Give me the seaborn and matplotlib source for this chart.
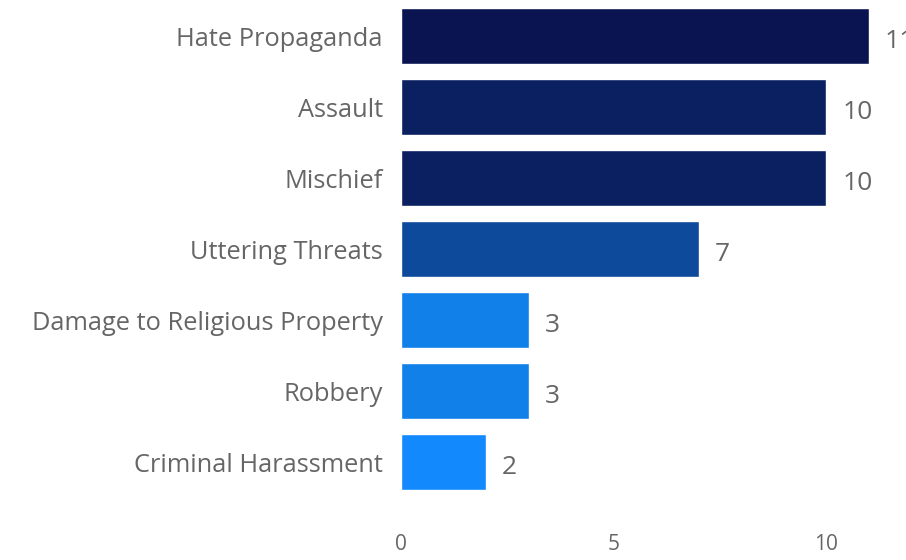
import matplotlib
matplotlib.use("Agg")
import matplotlib.pyplot as plt
import seaborn as sns
import pandas as pd

# Data
categories = ["Hate Propaganda", "Assault", "Mischief", "Uttering Threats",
              "Damage to Religious Property", "Robbery", "Criminal Harassment"]
counts = [11, 10, 10, 7, 3, 3, 2]
bar_colors = ["#0a1450", "#0b2060", "#0b2060", "#0d4a9c",
              "#1180e8", "#1180e8", "#1289fd"]

df = pd.DataFrame({"Category": categories, "Count": counts})

sns.set_style("white")
plt.rcParams["font.family"] = ["Open Sans", "DejaVu Sans"]

fig = plt.figure(figsize=(9.06, 5.6), dpi=100)
ax = fig.add_axes([0.4426, 0.1116, 0.5574, 0.8875])

sns.barplot(data=df, x="Count", y="Category", hue="Category",
            palette=bar_colors, legend=False, width=0.79, ax=ax,
            saturation=1)

for i, v in enumerate(counts):
    ax.text(v + 0.38, i + 0.08, str(v), va="center", ha="left",
            fontsize=19, color="#666666")

ax.set_xlim(0, 11.88)
ax.set_xticks([0, 5, 10])
ax.set_xlabel("")
ax.set_ylabel("")
ax.tick_params(axis="y", length=0, pad=13, labelsize=18.3, labelcolor="#666666")
ax.tick_params(axis="x", length=0, pad=26, labelsize=15, labelcolor="#666666")
sns.despine(ax=ax, left=True, bottom=True)

fig.savefig("out.png", dpi=100)
